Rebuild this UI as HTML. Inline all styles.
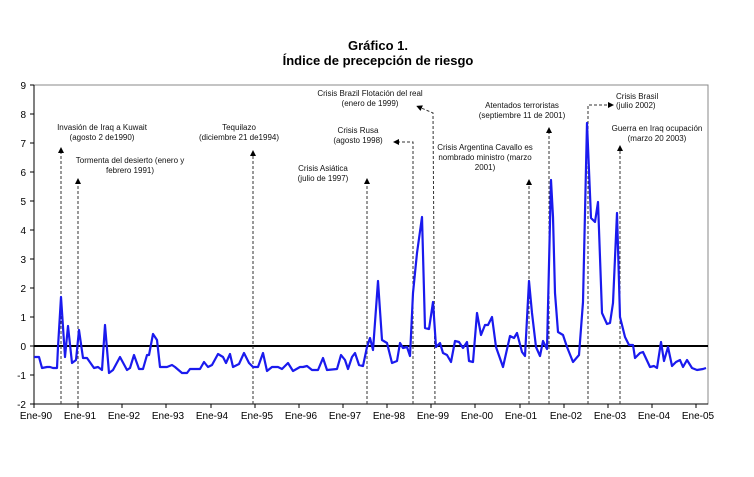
<!DOCTYPE html>
<html><head><meta charset="utf-8"><style>
body{margin:0;background:#fff;}
svg text{font-family:"Liberation Sans",sans-serif;}
</style></head><body>
<svg width="754" height="472" viewBox="0 0 754 472" xmlns="http://www.w3.org/2000/svg">
<defs><marker id="a" viewBox="0 0 10 10" refX="5" refY="5" markerWidth="6" markerHeight="6" orient="auto-start-reverse"><path d="M0,0 L10,5 L0,10 z" fill="#000"/></marker></defs>
<text x="378" y="50" text-anchor="middle" font-size="13" font-weight="bold">Gráfico 1.</text>
<text x="378" y="65" text-anchor="middle" font-size="13" font-weight="bold">Índice de precepción de riesgo</text>
<rect x="34" y="85" width="674" height="319" fill="none" stroke="#888" stroke-width="1"/>
<g font-size="10" text-anchor="end">
<text x="26" y="89">9</text><text x="26" y="118">8</text><text x="26" y="147">7</text><text x="26" y="176">6</text><text x="26" y="205">5</text><text x="26" y="234">4</text><text x="26" y="263">3</text><text x="26" y="292">2</text><text x="26" y="321">1</text><text x="26" y="350">0</text><text x="26" y="379">-1</text><text x="26" y="408">-2</text>
</g>
<g stroke="#000" stroke-width="1">
<line x1="30" y1="85" x2="34" y2="85"/><line x1="30" y1="114" x2="34" y2="114"/><line x1="30" y1="143" x2="34" y2="143"/><line x1="30" y1="172" x2="34" y2="172"/><line x1="30" y1="201" x2="34" y2="201"/><line x1="30" y1="230" x2="34" y2="230"/><line x1="30" y1="259" x2="34" y2="259"/><line x1="30" y1="288" x2="34" y2="288"/><line x1="30" y1="317" x2="34" y2="317"/><line x1="30" y1="346" x2="34" y2="346"/><line x1="30" y1="375" x2="34" y2="375"/><line x1="30" y1="404" x2="34" y2="404"/>
<line x1="34" y1="85" x2="34" y2="404"/>
<line x1="34" y1="404" x2="708" y2="404"/>
</g>
<g stroke="#000"><line x1="34" y1="404" x2="34" y2="408"/><line x1="78" y1="404" x2="78" y2="408"/><line x1="122" y1="404" x2="122" y2="408"/><line x1="166" y1="404" x2="166" y2="408"/><line x1="211" y1="404" x2="211" y2="408"/><line x1="255" y1="404" x2="255" y2="408"/><line x1="299" y1="404" x2="299" y2="408"/><line x1="343" y1="404" x2="343" y2="408"/><line x1="387" y1="404" x2="387" y2="408"/><line x1="431" y1="404" x2="431" y2="408"/><line x1="475" y1="404" x2="475" y2="408"/><line x1="520" y1="404" x2="520" y2="408"/><line x1="564" y1="404" x2="564" y2="408"/><line x1="608" y1="404" x2="608" y2="408"/><line x1="652" y1="404" x2="652" y2="408"/><line x1="696" y1="404" x2="696" y2="408"/></g>
<g font-size="10" text-anchor="middle">
<text x="36" y="419">Ene-90</text><text x="80" y="419">Ene-91</text><text x="124" y="419">Ene-92</text><text x="168" y="419">Ene-93</text><text x="212" y="419">Ene-94</text><text x="257" y="419">Ene-95</text><text x="301" y="419">Ene-96</text><text x="345" y="419">Ene-97</text><text x="389" y="419">Ene-98</text><text x="433" y="419">Ene-99</text><text x="477" y="419">Ene-00</text><text x="521" y="419">Ene-01</text><text x="566" y="419">Ene-02</text><text x="610" y="419">Ene-03</text><text x="654" y="419">Ene-04</text><text x="698" y="419">Ene-05</text>
</g>
<line x1="34" y1="346" x2="708" y2="346" stroke="#000" stroke-width="2"/>
<g stroke="#333" stroke-width="1" stroke-dasharray="3,2" fill="none">
<line x1="61" y1="404" x2="61" y2="150" marker-end="url(#a)"/>
<line x1="78" y1="404" x2="78" y2="181" marker-end="url(#a)"/>
<line x1="253" y1="404" x2="253" y2="153" marker-end="url(#a)"/>
<line x1="367" y1="404" x2="367" y2="181" marker-end="url(#a)"/>
<polyline points="413,404 413,142 396,142" marker-end="url(#a)"/>
<polyline points="435,404 433,113 419,107" marker-end="url(#a)"/>
<line x1="529" y1="404" x2="529" y2="182" marker-end="url(#a)"/>
<line x1="549" y1="404" x2="549" y2="130" marker-end="url(#a)"/>
<polyline points="588,404 588,105 611,105" marker-end="url(#a)"/>
<line x1="620" y1="404" x2="620" y2="148" marker-end="url(#a)"/>
</g>
<polyline fill="none" stroke="#1a1aee" stroke-width="2.2" stroke-linejoin="round" points="34,357 39,357 42,368 47,367 50,367 53,368 57,368 58,347 61,297 65,357 68,326 72,363 76,360 79,330 83,358 87,358 94,368 98,367 102,370 105,325 109,373 113,370 120,357 127,370 130,368 134,355 139,369 143,369 147,355 149,355 153,334 157,340 160,367 167,367 172,365 175,367 182,373 187,373 190,369 200,369 204,362 208,367 212,365 218,354 223,357 226,363 230,354 233,367 239,364 244,353 249,363 253,367 258,367 263,353 267,371 272,367 278,367 282,369 288,363 293,371 300,367 303,367 307,366 312,370 318,370 323,358 327,370 337,369 341,355 345,360 348,369 352,357 355,353 359,365 363,366 367,347 370,338 373,350 378,281 382,340 387,343 392,363 397,361 400,343 403,348 407,347 410,356 413,293 417,253 422,217 425,328 429,329 433,302 436,347 440,343 443,353 447,355 451,362 455,341 459,342 463,348 467,342 469,361 473,362 477,313 481,335 485,325 488,325 492,317 496,347 503,367 510,336 514,338 517,333 522,352 525,356 529,281 532,313 536,347 540,356 543,341 547,349 551,180 553,217 555,293 558,332 563,335 567,347 573,362 579,355 583,302 587,123 591,218 595,222 598,202 602,313 607,324 610,323 613,303 617,213 620,317 625,337 629,345 633,345 635,358 640,353 643,352 650,367 654,366 657,368 661,342 664,361 668,347 672,366 676,362 680,360 683,367 687,360 692,368 697,370 703,369 706,368"/>
<g font-size="8" text-anchor="middle" fill="#111">
<text x="102" y="130">Invasión de Iraq a Kuwait</text><text x="102" y="140">(agosto 2 de1990)</text>
<text x="130" y="163">Tormenta del desierto (enero y</text><text x="130" y="173">febrero 1991)</text>
<text x="239" y="130">Tequilazo</text><text x="239" y="140">(diciembre 21 de1994)</text>
<text x="323" y="171">Crisis Asiática</text><text x="323" y="181">(julio de 1997)</text>
<text x="358" y="133">Crisis Rusa</text><text x="358" y="143">(agosto 1998)</text>
<text x="370" y="96">Crisis Brazil Flotación del real</text><text x="370" y="106">(enero de 1999)</text>
<text x="522" y="108">Atentados terroristas</text><text x="522" y="118">(septiembre 11 de 2001)</text>
<text x="485" y="150">Crisis Argentina Cavallo es</text><text x="485" y="160">nombrado ministro (marzo</text><text x="485" y="170">2001)</text>
<text x="657" y="131">Guerra en Iraq ocupación</text><text x="657" y="141">(marzo 20 2003)</text>
</g>
<g font-size="8" fill="#111"><text x="616" y="99">Crisis Brasil</text><text x="616" y="108">(julio 2002)</text></g>
</svg>
</body></html>
